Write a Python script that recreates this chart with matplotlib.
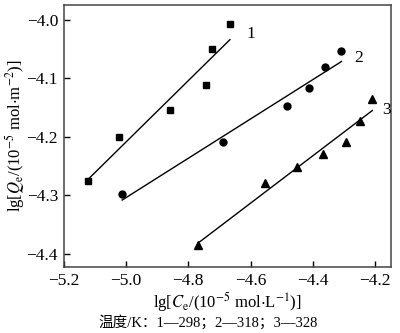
import numpy as np
import matplotlib
matplotlib.use("Agg")
import matplotlib.pyplot as plt

plt.rcParams['font.family'] = ['Liberation Serif', 'Noto Sans CJK SC']
plt.rcParams['mathtext.fontset'] = 'stix'
plt.rcParams['axes.unicode_minus'] = True

# lg Ce, lg Qe
x1 = [-5.121, -5.022, -4.857, -4.743, -4.723, -4.666]
y1 = [-4.276, -4.200, -4.155, -4.111, -4.051, -4.008]

x2 = [-5.012, -4.688, -4.482, -4.412, -4.362, -4.308]
y2 = [-4.298, -4.209, -4.148, -4.117, -4.081, -4.053]

x3 = [-4.769, -4.552, -4.452, -4.367, -4.294, -4.247, -4.209]
y3 = [-4.386, -4.280, -4.252, -4.229, -4.210, -4.173, -4.136]

series = [(x1, y1, 's', 5, '1', (-4.612, -4.024)),
          (x2, y2, 'o', 5, '2', (-4.268, -4.066)),
          (x3, y3, '^', 6, '3', (-4.176, -4.155))]

fig = plt.figure(figsize=(4, 3.33), dpi=100)
ax = fig.add_axes([0.159, 0.198, 0.8185, 0.787])

for xs, ys, m, ms, lab, pos in series:
    ax.plot(xs, ys, m, color='black', markersize=ms, linestyle='none')
    k, b = np.polyfit(xs, ys, 1)
    xx = np.array([xs[0], xs[-1]])
    ax.plot(xx, k * xx + b, color='black', lw=1.0)
    ax.text(pos[0], pos[1], lab, fontsize=12.5, ha='left', va='center')

ax.set_xlim(-5.2, -4.149)
ax.set_ylim(-4.423, -3.975)
ax.set_xticks([-5.2, -5.0, -4.8, -4.6, -4.4, -4.2])
ax.set_yticks([-4.4, -4.3, -4.2, -4.1, -4.0])
ax.set_xticklabels(['−5.2', '−5.0', '−4.8', '−4.6', '−4.4', '−4.2'])
ax.set_yticklabels(['−4.4', '−4.3', '−4.2', '−4.1', '−4.0'])
ax.tick_params(direction='in', length=4, width=1, labelsize=12.5, pad=4)
for s in ax.spines.values():
    s.set_color('#444444')
    s.set_linewidth(1.1)

ax.set_xlabel(r'lg[$C_{\rm e}$/(10$^{-5}$ mol$\cdot$L$^{-1}$)]', fontsize=12, labelpad=1)
ax.set_ylabel(r'lg[$Q_{\rm e}$/(10$^{-5}$ mol$\cdot$m$^{-2}$)]', fontsize=12, labelpad=0)
fig.text(0.52, 0.033, '温度/K：1—298；2—318；3—328', ha='center', va='center', fontsize=10.5)

plt.savefig('out.png', dpi=100)
